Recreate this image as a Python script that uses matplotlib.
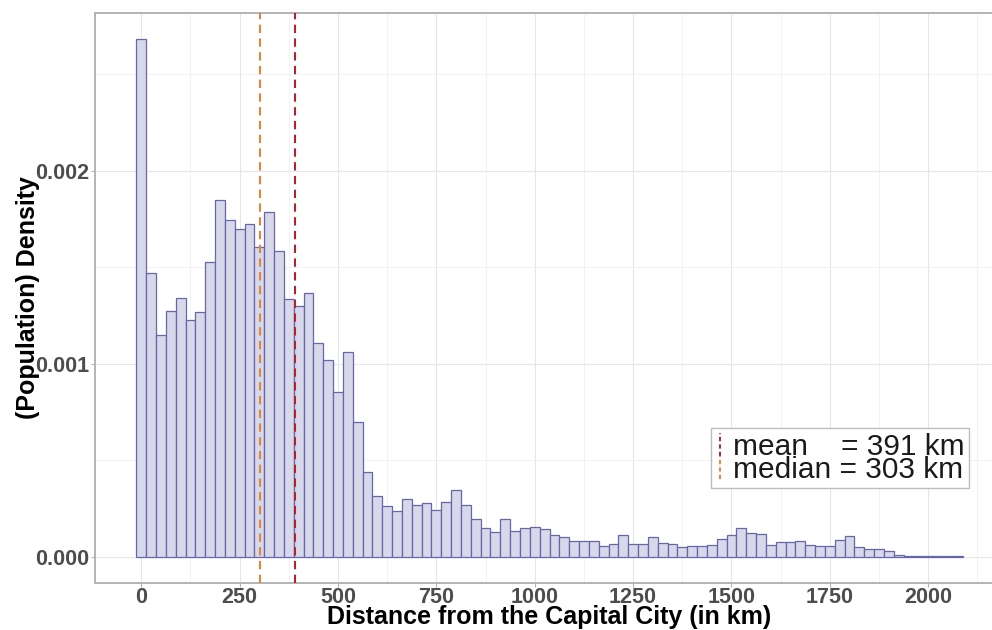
import matplotlib
matplotlib.use("Agg")
import matplotlib.pyplot as plt
from matplotlib.lines import Line2D
from matplotlib.legend_handler import HandlerBase
from matplotlib.ticker import MultipleLocator, FormatStrFormatter

# Histogram: bin centres (km) and population density (x 1e-3)
bin_width = 25
bin_centres = list(range(0, 2100, bin_width))
density_e3 = [
    2.683, 1.471, 1.147, 1.273, 1.338, 1.228, 1.266, 1.528, 1.847, 1.745,
    1.698, 1.724, 1.604, 1.786, 1.585, 1.336, 1.296, 1.364, 1.108, 1.021,
    0.851, 1.062, 0.697, 0.438, 0.312, 0.261, 0.238, 0.297, 0.266, 0.280,
    0.242, 0.282, 0.346, 0.268, 0.194, 0.149, 0.126, 0.194, 0.133, 0.150,
    0.152, 0.142, 0.113, 0.100, 0.081, 0.081, 0.081, 0.057, 0.066, 0.114,
    0.066, 0.066, 0.102, 0.073, 0.066, 0.050, 0.055, 0.055, 0.061, 0.090,
    0.113, 0.150, 0.121, 0.119, 0.059, 0.078, 0.075, 0.080, 0.059, 0.055,
    0.057, 0.087, 0.107, 0.052, 0.041, 0.041, 0.030, 0.009, 0.005, 0.004,
    0.002, 0.001, 0.001, 0.001,
]
density = [d / 1000 for d in density_e3]

mean_km = 391
median_km = 303

x_ticks = list(range(0, 2001, 250))
y_ticks = [0.0, 0.001, 0.002]


class VLineHandler(HandlerBase):
    # legend key drawn as a short vertical dashed line (like ggplot's vline key)
    def create_artists(self, legend, orig_handle, xdescent, ydescent,
                       width, height, fontsize, trans):
        xc = width / 2 - xdescent
        line = Line2D([xc, xc], [-ydescent - 0.1 * height, height - ydescent + 0.1 * height],
                      color=orig_handle.get_color(), linestyle=(0, (2.2, 1.6)),
                      linewidth=1.4, transform=trans)
        return [line]


plt.rcParams['font.family'] = ['Liberation Sans', 'DejaVu Sans']

fig = plt.figure(figsize=(9.92, 6.30), dpi=100)
ax = fig.add_axes([95 / 992, 1 - 582.5 / 630, (1004 - 95) / 992, (582.5 - 12.9) / 630])

ax.bar(bin_centres, density, width=bin_width, color="#D7D8EA",
       edgecolor="#6667A9", linewidth=0.9, zorder=2)

ax.axvline(mean_km, color="#B0222F", linestyle=(0, (4, 2.6)), linewidth=1.5, zorder=3)
ax.axvline(median_km, color="#E3863B", linestyle=(0, (4, 2.6)), linewidth=1.5, zorder=3)

ax.set_xlim(-117.5, 2192.5)
ax.set_ylim(-0.000134, 0.002817)
ax.set_xticks(x_ticks)
ax.set_yticks(y_ticks)
ax.xaxis.set_minor_locator(MultipleLocator(125))
ax.yaxis.set_minor_locator(MultipleLocator(0.0005))
ax.yaxis.set_major_formatter(FormatStrFormatter("%.3f"))

ax.grid(which="major", color="#E6E6E6", linewidth=0.8, zorder=0)
ax.grid(which="minor", color="#F0F0F0", linewidth=0.6, zorder=0)
ax.set_axisbelow(True)

for s in ax.spines.values():
    s.set_color("#B3B3B3")
    s.set_linewidth(1.4)

ax.tick_params(which="major", length=3, width=0.8, color="#B3B3B3",
               labelsize=15.5, labelcolor="#4D4D4D", pad=1.5)
ax.tick_params(axis="x", pad=0.5)
ax.tick_params(which="minor", length=0)
for lab in ax.get_xticklabels() + ax.get_yticklabels():
    lab.set_fontweight("bold")

ax.set_xlabel("Distance from the Capital City (in km)", fontsize=18, fontweight="bold")
ax.set_ylabel("(Population) Density", fontsize=18, fontweight="bold")
ax.xaxis.set_label_coords(0.5, -0.039)
ax.yaxis.set_label_coords(-0.061, 0.5)

handles = [Line2D([], [], color="#B0222F"), Line2D([], [], color="#E3863B")]
labels = [f"mean    = {mean_km} km", f"median = {median_km} km"]
leg = fig.legend(handles, labels, handler_map={Line2D: VLineHandler()},
                 loc="upper left", bbox_to_anchor=(710.7 / 992, 1 - 428.3 / 630),
                 fontsize=21.5, frameon=True, fancybox=False, framealpha=1,
                 edgecolor="#BDBDBD", borderpad=0.15, labelspacing=-0.16,
                 handlelength=0.3, handleheight=0.6, handletextpad=0.3,
                 borderaxespad=0)
leg.get_frame().set_linewidth(1.0)
for t in leg.get_texts():
    t.set_color("#1A1A1A")

fig.savefig("out.png", dpi=100)
